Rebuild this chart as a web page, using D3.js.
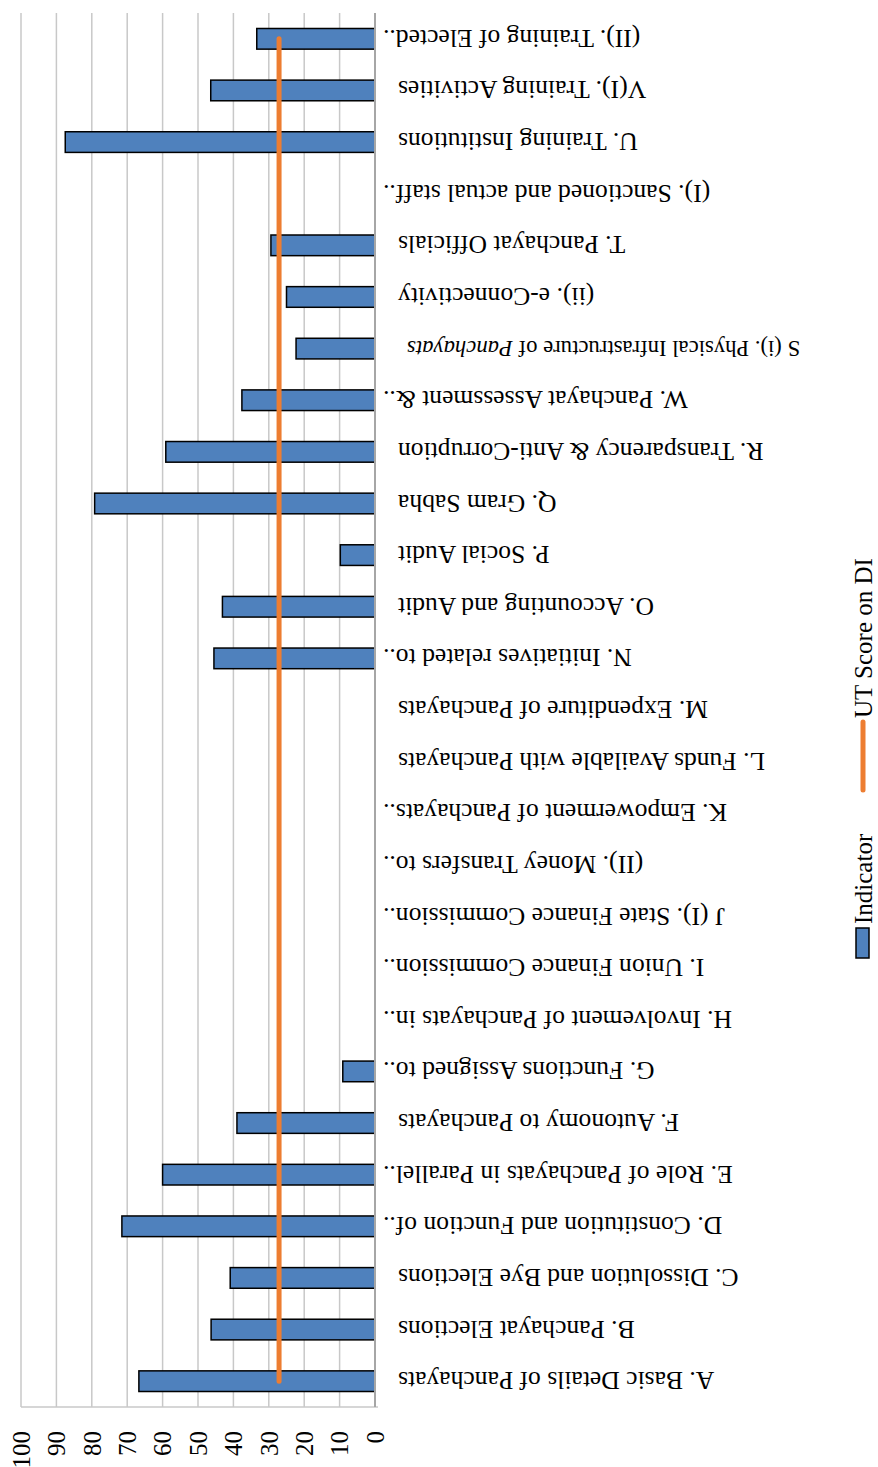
<!DOCTYPE html>
<html>
<head>
<meta charset="utf-8">
<script src="https://cdn.jsdelivr.net/npm/d3@7"></script>
<style>
  html, body { margin: 0; padding: 0; background: #fff; }
  svg { display: block; }
  text { font-family: "Liberation Serif", "Times New Roman", serif; fill: #000; }
</style>
</head>
<body>
<div id="chart"></div>
<script>
// ---- data ----
const categories = [
  "A. Basic Details of Panchayats",
  "B. Panchayat Elections",
  "C. Dissolution and Bye Elections",
  "D. Constitution and Function of..",
  "E. Role of Panchayats in Parallel..",
  "F. Autonomy to Panchayats",
  "G. Functions Assigned to..",
  "H. Involvement of Panchayats in..",
  "I. Union Finance Commission..",
  "J (I). State Finance Commission..",
  "(II). Money Transfers to..",
  "K. Empowerment of Panchayats..",
  "L. Funds Available with Panchayats",
  "M. Expenditure of Panchayats",
  "N. Initiatives related to..",
  "O. Accounting and Audit",
  "P. Social Audit",
  "Q. Gram Sabha",
  "R. Transparency & Anti-Corruption",
  "W. Panchayat Assessment &..",
  "S (i). Physical Infrastructure of Panchayats",
  "(ii). e-Connectivity",
  "T. Panchayat Officials",
  "(I). Sanctioned and actual staff..",
  "U. Training Institutions",
  "V(I). Training Activities",
  "(II). Training of Elected.."
];
const indicatorValues = [66.7, 46.3, 40.9, 71.5, 60.0, 39.0, 9.1, 0, 0, 0, 0, 0, 0, 0,
  45.5, 43.1, 9.8, 79.2, 59.1, 37.6, 22.3, 25.0, 29.4, 0, 87.5, 46.4, 33.4];
const utScore = 27.1;
const valueTicks = [0, 10, 20, 30, 40, 50, 60, 70, 80, 90, 100];
const seriesNames = ["Indicator", "UT Score on DI"];

// ---- layout (drawn as a column chart, then turned 90deg counter-clockwise) ----
const SW = 878, SH = 1467;         // screen size
const svg = d3.select("#chart").append("svg")
  .attr("width", SW).attr("height", SH);
svg.append("rect").attr("width", SW).attr("height", SH).attr("fill", "#fff");

const g = svg.append("g").attr("transform", `translate(0,${SH}) rotate(-90)`);

const x = d3.scaleBand().domain(categories).range([60, 1454]).paddingInner(0).paddingOuter(0);
const y = d3.scaleLinear().domain([0, 100]).range([375, 21]);
const step = x.step();
const barW = step * 0.4;

// gridlines
g.append("g").selectAll("line").data(valueTicks.filter(v => v > 0)).join("line")
  .attr("x1", 60).attr("x2", 1454)
  .attr("y1", d => y(d)).attr("y2", d => y(d))
  .attr("stroke", "#c8c8c8").attr("stroke-width", 1.5);

// value axis line (bottom on screen)
g.append("line").attr("x1", 60).attr("x2", 60).attr("y1", y(100)).attr("y2", y(0) + 3)
  .attr("stroke", "#c8c8c8").attr("stroke-width", 1.5);

// value tick labels
g.append("g").selectAll("text").data(valueTicks).join("text")
  .attr("x", 36).attr("y", d => y(d)).attr("dy", "0.35em")
  .attr("text-anchor", "end").attr("font-size", 25)
  .text(d => d);

// bars
g.append("g").selectAll("rect").data(categories.map((c, i) => ({c, v: indicatorValues[i]})).filter(d => d.v > 0))
  .join("rect")
  .attr("x", d => x(d.c) + (step - barW) / 2)
  .attr("width", barW)
  .attr("y", d => y(d.v))
  .attr("height", d => y(0) - y(d.v))
  .attr("fill", "#4f81bd").attr("stroke", "#000").attr("stroke-width", 1.5);

// category axis line
g.append("line").attr("x1", 60).attr("x2", 1454).attr("y1", y(0)).attr("y2", y(0))
  .attr("stroke", "#a6a6a6").attr("stroke-width", 2);

// UT score line
const line = d3.line().x(d => x(d) + step / 2).y(() => y(utScore));
g.append("path").datum([categories[0], categories[categories.length - 1]])
  .attr("d", line).attr("fill", "none")
  .attr("stroke", "#ed7d31").attr("stroke-width", 5).attr("stroke-linecap", "round");

// category labels
const labels = g.append("g").selectAll("text").data(categories).join("text")
  .attr("transform", d => `translate(${x(d) + step / 2},${y(0) + 8}) rotate(-90)`)
  .attr("text-anchor", "end").attr("dy", "0.35em")
  .attr("font-size", d => d.startsWith("S (i)") ? 22.7 : 25.6)
  .attr("dx", d => d.startsWith("S (i)") ? -24 : (d.endsWith("..") ? 0 : -15));
labels.each(function(d) {
  const t = d3.select(this);
  if (d.startsWith("S (i)")) {
    const k = d.lastIndexOf("Panchayats");
    t.append("tspan").text(d.slice(0, k));
    t.append("tspan").attr("font-style", "italic").text(d.slice(k));
  } else {
    t.text(d);
  }
});

// legend
const lg = g.append("g");
lg.append("rect").attr("x", 509).attr("y", 856).attr("width", 30).attr("height", 13)
  .attr("fill", "#4f81bd").attr("stroke", "#000").attr("stroke-width", 1.5);
lg.append("text").attr("x", 543).attr("y", 872).attr("font-size", 25).text(seriesNames[0]);
lg.append("line").attr("x1", 677).attr("x2", 745).attr("y1", 863).attr("y2", 863)
  .attr("stroke", "#ed7d31").attr("stroke-width", 5).attr("stroke-linecap", "round");
lg.append("text").attr("x", 749).attr("y", 872).attr("font-size", 25).text(seriesNames[1]);
</script>
</body>
</html>
